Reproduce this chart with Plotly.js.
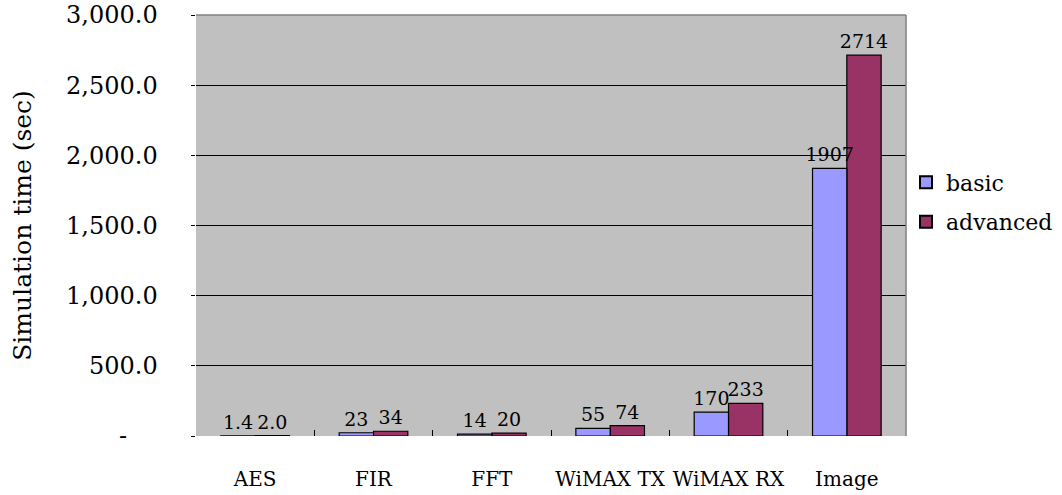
<!DOCTYPE html>
<html>
<head>
<meta charset="utf-8">
<script src="https://cdn.plot.ly/plotly-3.0.1.min.js"></script>
<style>
  html, body { margin: 0; padding: 0; background: #fff; }
  #chart { width: 1062px; height: 495px; }
</style>
</head>
<body>
<div id="chart"></div>
<script>
// Benchmarks and measured simulation times (seconds)
const categories = ["AES", "FIR", "FFT", "WiMAX TX", "WiMAX RX", "Image"];
const basicTimes = [1.4, 23, 14, 55, 170, 1907];
const advancedTimes = [2.0, 34, 20, 74, 233, 2714];

// Accounting-style axis labels: zero shows as a dash padded on the right
const ZERO_PAD = '<span style="color:rgba(0,0,0,0)">00</span>';
const yTickVals = [0, 500, 1000, 1500, 2000, 2500, 3000];
const yTickText = ["-" + ZERO_PAD, "500.0", "1,000.0", "1,500.0", "2,000.0", "2,500.0", "3,000.0"];

const FONT = "DejaVu Serif, Liberation Serif, serif";

// Small values keep one decimal, the rest are shown as integers
const fmt = v => (v < 10 ? v.toFixed(1) : String(Math.round(v)));

const barLine = { color: "#000000", width: 1.2 };

function barTrace(name, values, color, group, z) {
  return {
    type: "bar",
    name: name,
    legendgroup: group,
    x: categories,
    y: values,
    text: values.map(fmt),
    textposition: "outside",
    constraintext: "none",
    cliponaxis: false,
    zorder: z,
    textfont: { family: FONT, size: 19, color: "#000000" },
    marker: { color: color, line: barLine },
    hoverinfo: "x+y+name"
  };
}

// "basic" is drawn last so its value labels stay on top of the neighbouring bars
const traces = [
  barTrace("basic", basicTimes, "#9999FF", "g1", 1),
  barTrace("advanced", advancedTimes, "#993366", "g2", 0)
];

const layout = {
  width: 1062,
  height: 495,
  margin: { l: 196, r: 156, t: 15, b: 59, autoexpand: false },
  paper_bgcolor: "#ffffff",
  plot_bgcolor: "#C0C0C0",
  font: { family: FONT, size: 20, color: "#000000" },
  barmode: "group",
  bargap: 0.42,
  bargroupgap: 0,
  showlegend: true,
  legend: {
    x: 1.0,
    xanchor: "left",
    y: 0.555,
    yanchor: "middle",
    bgcolor: "rgba(0,0,0,0)",
    font: { family: FONT, size: 22, color: "#000000" },
    traceorder: "grouped",
    tracegroupgap: 8,
    itemsizing: "constant"
  },
  xaxis: {
    type: "category",
    tickson: "boundaries",
    ticks: "inside",
    ticklen: 6,
    tickwidth: 1,
    tickcolor: "#000000",
    tickangle: 0,
    showline: true,
    linecolor: "#000000",
    linewidth: 1.5,
    showgrid: false,
    ticklabelstandoff: 24,
    tickfont: { family: FONT, size: 20, color: "#000000" },
    automargin: false,
    fixedrange: true
  },
  yaxis: {
    range: [0, 3000],
    tickvals: yTickVals,
    ticktext: yTickText,
    ticks: "outside",
    ticklen: 4,
    tickcolor: "#000000",
    showline: true,
    linecolor: "#000000",
    linewidth: 1.5,
    showgrid: true,
    gridcolor: "#000000",
    gridwidth: 1,
    zeroline: false,
    ticklabelstandoff: 28,
    tickfont: { family: FONT, size: 24, color: "#000000" },
    title: {
      text: "Simulation time (sec)",
      font: { family: FONT, size: 25, color: "#000000" },
      standoff: 27
    },
    automargin: false,
    fixedrange: true
  },
  shapes: [
    // grey frame along the top and right of the plotting area
    { type: "line", xref: "paper", yref: "paper", x0: 0, x1: 1, y0: 1, y1: 1,
      line: { color: "#808080", width: 1.5 } },
    { type: "line", xref: "paper", yref: "paper", x0: 1, x1: 1, y0: 0, y1: 1,
      line: { color: "#808080", width: 1.5 } }
  ]
};

Plotly.newPlot("chart", traces, layout, { displayModeBar: false, staticPlot: true });
</script>
</body>
</html>
